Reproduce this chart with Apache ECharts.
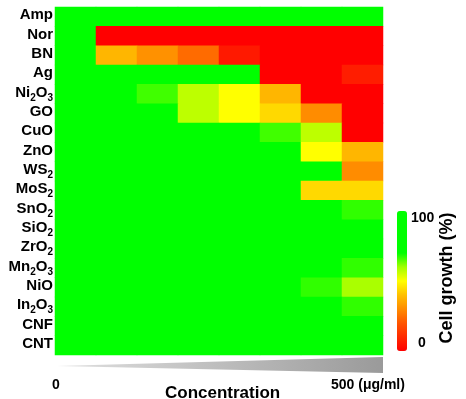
<!DOCTYPE html>
<html>
<head>
<meta charset="utf-8">
<script src="https://cdn.jsdelivr.net/npm/echarts@6/dist/echarts.min.js"></script>
<style>html,body{margin:0;padding:0;background:#fff;}#c{width:466px;height:399px;}</style>
</head>
<body>
<div id="c"></div>
<script>
// Materials (top to bottom); digits are drawn as subscripts
const materials = ['Amp','Nor','BN','Ag','Ni2O3','GO','CuO','ZnO','WS2','MoS2','SnO2','SiO2','ZrO2','Mn2O3','NiO','In2O3','CNF','CNT'];
// Concentration levels (0 -> 500 µg/ml), 8 steps
const levels = ['L1','L2','L3','L4','L5','L6','L7','L8'];
// Cell growth (%) per material at each level
const amp   = [100,100,100,100,100,100,100,100];
const nor   = [100,0,0,0,0,0,0,0];
const bn    = [100,38,31,24,6,0,0,0];
const ag    = [100,100,100,100,100,0,0,7];
const ni2o3 = [100,100,66,57,50,38,0,0];
const go    = [100,100,100,57,50,44,30,0];
const cuo   = [100,100,100,100,100,66,57,0];
const zno   = [100,100,100,100,100,100,50,38];
const ws2   = [100,100,100,100,100,100,100,30];
const mos2  = [100,100,100,100,100,100,44,44];
const sno2  = [100,100,100,100,100,100,100,67];
const sio2  = [100,100,100,100,100,100,100,100];
const zro2  = [100,100,100,100,100,100,100,100];
const mn2o3 = [100,100,100,100,100,100,100,67];
const nio   = [100,100,100,100,100,100,67,59];
const in2o3 = [100,100,100,100,100,100,100,67];
const cnf   = [100,100,100,100,100,100,100,100];
const cnt   = [100,100,100,100,100,100,100,100];
const growthRows = [amp,nor,bn,ag,ni2o3,go,cuo,zno,ws2,mos2,sno2,sio2,zro2,mn2o3,nio,in2o3,cnf,cnt];

const data = [];
growthRows.forEach((row, r) => row.forEach((v, c) => data.push([c, r, v])));

function labelFmt(name) {
  return name.split(/(\d)/).filter(p => p).map(p => /\d/.test(p) ? '{s|' + p + '}' : '{n|' + p + '}').join('');
}

const chart = echarts.init(document.getElementById('c'), null, {renderer: 'canvas'});
const font = 'Liberation Sans, Arial, sans-serif';
chart.setOption({
  animation: false,
  grid: {left: 55, right: 83, top: 7, bottom: 44},
  xAxis: {type: 'category', data: levels, show: false},
  yAxis: {
    type: 'category', data: materials, inverse: true,
    axisLine: {show: false}, axisTick: {show: false}, splitLine: {show: false},
    axisLabel: {
      margin: 2,
      formatter: labelFmt,
      rich: {
        n: {fontFamily: font, fontWeight: 'bold', fontSize: 15, color: '#000', lineHeight: 18, verticalAlign: 'top'},
        s: {fontFamily: font, fontWeight: 'bold', fontSize: 10, color: '#000', lineHeight: 18, verticalAlign: 'top', padding: [8, 0, 0, 0]}
      }
    }
  },
  visualMap: {
    type: 'continuous', min: 0, max: 100, calculable: false, show: true,
    orient: 'vertical', left: 397, top: 211, padding: 0, itemWidth: 10, itemHeight: 140,
    text: null, showLabel: false,
    inRange: {color: ['#ff0000','#ff2a00','#ff5500','#ff8c00','#ffc000','#ffff00','#a0ff00','#00ff00','#00ff00','#00ff00','#00ff00']}
  },
  series: [{
    type: 'heatmap', data: data,
    itemStyle: {borderWidth: 0},
    emphasis: {disabled: true},
    progressive: 0
  }],
  graphic: [
    {type: 'polygon', shape: {points: [[57,366],[383,357],[383,373]]},
     style: {fill: new echarts.graphic.LinearGradient(0,0,1,0,[{offset:0,color:'#e0e0e0'},{offset:1,color:'#9a9a9a'}])}},
    {type: 'text', left: 52, top: 378, style: {text: '0', font: 'bold 14px ' + font, fill: '#000'}},
    {type: 'text', left: 331, top: 378, style: {text: '500 (μg/ml)', font: 'bold 14px ' + font, fill: '#000'}},
    {type: 'text', left: 165, top: 385, style: {text: 'Concentration', font: 'bold 17px ' + font, fill: '#000'}},
    {type: 'text', left: 411, top: 211, style: {text: '100', font: 'bold 14px ' + font, fill: '#000'}},
    {type: 'text', left: 418, top: 336, style: {text: '0', font: 'bold 14px ' + font, fill: '#000'}},
    {type: 'text', x: 447, y: 278, rotation: Math.PI/2,
     style: {text: 'Cell growth (%)', font: 'bold 18px ' + font, fill: '#000', align: 'center', verticalAlign: 'middle'}}
  ]
});
</script>
</body>
</html>
